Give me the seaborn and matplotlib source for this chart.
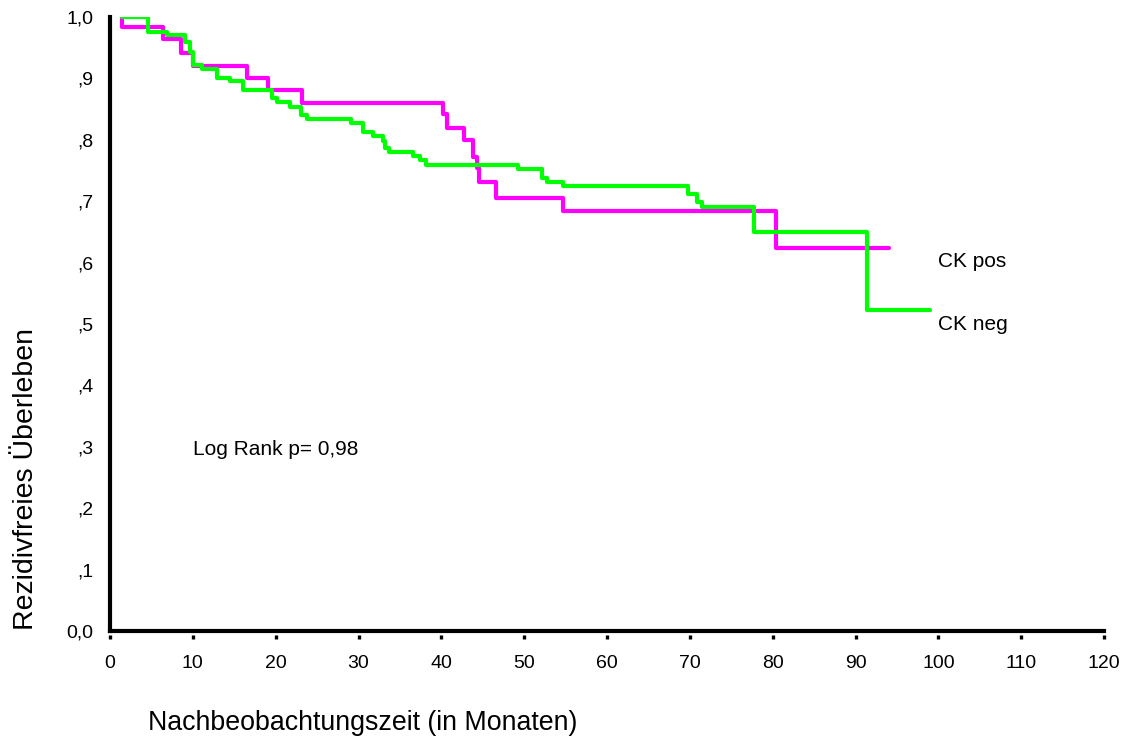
import numpy as np
import pandas as pd
import matplotlib
matplotlib.use("Agg")
import matplotlib.pyplot as plt
import seaborn as sns

# ---- data ----
pos_time = [1.4, 1.5, 6.4, 8.6, 10.0, 16.5, 19.1, 23.2, 40.2, 40.7, 42.7, 43.8,
            44.3, 44.5, 46.6, 54.7, 80.4, 94.0]
pos_surv = [1.0, 0.984, 0.964, 0.942, 0.921, 0.901, 0.881, 0.860, 0.842, 0.820,
            0.800, 0.772, 0.754, 0.731, 0.705, 0.684, 0.624, 0.624]

neg_time = [1.4, 4.6, 6.9, 9.1, 9.7, 10.0, 11.1, 12.9, 14.5, 16.1, 19.6, 20.2,
            21.7, 23.0, 23.8, 29.1, 30.6, 31.8, 33.0, 33.2, 33.7, 36.6, 37.4,
            38.2, 49.2, 52.2, 52.8, 54.7, 69.8, 70.9, 71.5, 77.8, 91.4, 99.0]
neg_surv = [1.0, 0.975, 0.970, 0.960, 0.943, 0.922, 0.915, 0.901, 0.896, 0.881,
            0.868, 0.862, 0.853, 0.840, 0.834, 0.827, 0.813, 0.806, 0.798, 0.787,
            0.780, 0.774, 0.767, 0.759, 0.752, 0.738, 0.731, 0.725, 0.712, 0.699,
            0.691, 0.650, 0.523, 0.523]

groups = ["CK pos", "CK neg"]
x_ticks = [0, 10, 20, 30, 40, 50, 60, 70, 80, 90, 100, 110, 120]
y_ticks = [0.0, 0.1, 0.2, 0.3, 0.4, 0.5, 0.6, 0.7, 0.8, 0.9, 1.0]
y_tick_labels = ["0,0", ",1", ",2", ",3", ",4", ",5", ",6", ",7", ",8", ",9", "1,0"]
annotation = "Log Rank p= 0,98"
x_label = "Nachbeobachtungszeit (in Monaten)"
y_label = "Rezidivfreies Überleben"

df = pd.concat([
    pd.DataFrame({"t": pos_time, "s": pos_surv, "g": groups[0]}),
    pd.DataFrame({"t": neg_time, "s": neg_surv, "g": groups[1]}),
], ignore_index=True)

sns.set_theme(style="white")
plt.rcParams["font.family"] = ["Liberation Sans", "DejaVu Sans"]
plt.rcParams["text.color"] = "black"

fig = plt.figure(figsize=(11.22, 7.42), dpi=100)
ax = fig.add_axes([110 / 1122, 1 - 631 / 742, 994 / 1122, 614 / 742])

sns.lineplot(data=df, x="t", y="s", hue="g", estimator=None, sort=False,
             drawstyle="steps-post", palette={"CK pos": "#ff00ff", "CK neg": "#00ff00"},
             linewidth=3, legend=False, ax=ax)

ax.set_xlim(0, 120)
ax.set_ylim(0, 1)
ax.set_xticks(x_ticks)
ax.set_yticks(y_ticks)
ax.set_yticklabels(y_tick_labels)
ax.tick_params(axis="x", length=0, pad=17.5, labelsize=14, colors="black")
ax.tick_params(axis="y", length=0, pad=12, labelsize=14, colors="black")

for side in ["top", "right"]:
    ax.spines[side].set_visible(False)
for side in ["left", "bottom"]:
    ax.spines[side].set_linewidth(3)
    ax.spines[side].set_color("black")

# detached tick marks below the x axis
sec = ax.secondary_xaxis(-0.0065)
sec.set_xticks(x_ticks)
sec.tick_params(axis="x", direction="out", length=3, width=2.4, labelbottom=False,
                color="black")
sec.spines["bottom"].set_visible(False)

ax.set_xlabel(x_label, fontsize=19.3, ha="left", va="center", color="black")
ax.xaxis.set_label_coords(38 / 994, -92 / 614)
ax.set_ylabel(y_label, fontsize=20.5, va="center", color="black")
ax.yaxis.set_label_coords(-84 / 994, 152 / 614)

ax.text(100.0, 0.601, groups[0], fontsize=15, va="center", ha="left", color="black")
ax.text(100.0, 0.500, groups[1], fontsize=15, va="center", ha="left", color="black")
ax.text(10.0, 0.296, annotation, fontsize=15, va="center", ha="left", color="black")

fig.savefig("out.png", dpi=100)
